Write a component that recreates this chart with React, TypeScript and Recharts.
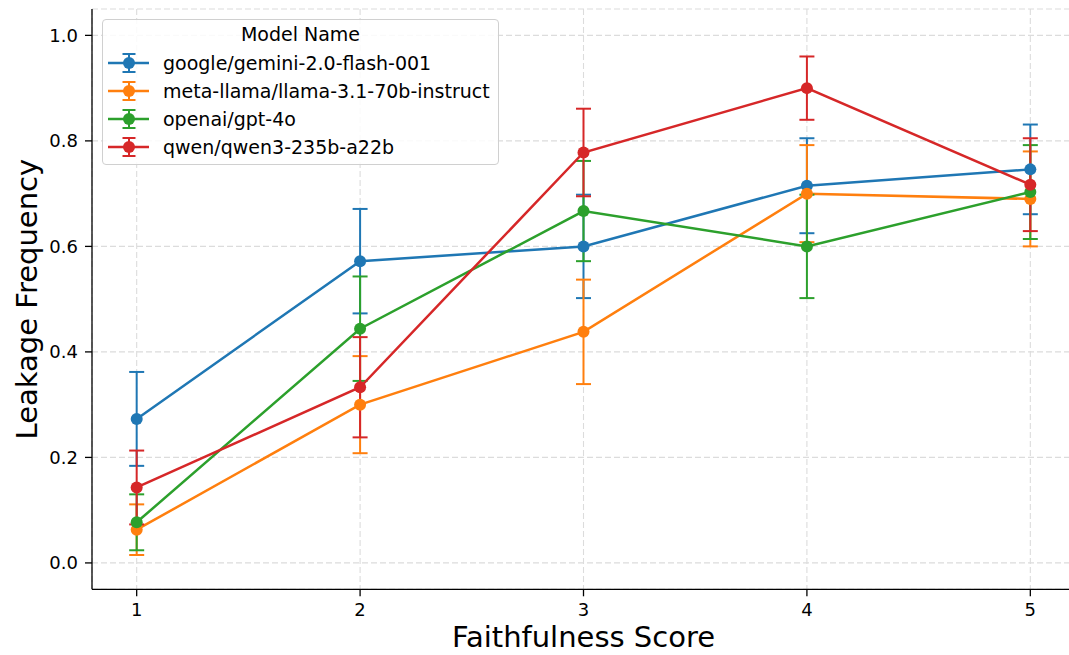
import React from "react";
import {
  CartesianGrid,
  ErrorBar,
  Legend,
  Line,
  LineChart,
  XAxis,
  YAxis,
} from "recharts";

const scores = [1, 2, 3, 4, 5];

const gemini = [0.273, 0.572, 0.6, 0.715, 0.746];
const geminiErr = [0.089, 0.099, 0.098, 0.09, 0.085];
const llama = [0.063, 0.3, 0.438, 0.7, 0.69];
const llamaErr = [0.048, 0.092, 0.099, 0.092, 0.09];
const gpt4o = [0.077, 0.444, 0.667, 0.6, 0.703];
const gpt4oErr = [0.053, 0.099, 0.095, 0.098, 0.089];
const qwen = [0.143, 0.333, 0.778, 0.9, 0.717];
const qwenErr = [0.07, 0.095, 0.083, 0.06, 0.088];

const yTicks = [0, 0.2, 0.4, 0.6, 0.8, 1.0];

const models = [
  { key: "gemini", name: "google/gemini-2.0-flash-001", color: "#1f77b4" },
  { key: "llama", name: "meta-llama/llama-3.1-70b-instruct", color: "#ff7f0e" },
  { key: "gpt4o", name: "openai/gpt-4o", color: "#2ca02c" },
  { key: "qwen", name: "qwen/qwen3-235b-a22b", color: "#d62728" },
];

const data = scores.map((score, i) => ({
  score,
  gemini: gemini[i],
  geminiErr: geminiErr[i],
  llama: llama[i],
  llamaErr: llamaErr[i],
  gpt4o: gpt4o[i],
  gpt4oErr: gpt4oErr[i],
  qwen: qwen[i],
  qwenErr: qwenErr[i],
}));

const font = "'DejaVu Sans', sans-serif";
const ink = "#000";

function LegendBox() {
  return (
    <div
      style={{
        position: "relative",
        boxSizing: "border-box",
        width: 397,
        height: 146,
        border: "1px solid #d0d0d0",
        borderRadius: 4,
        background: "rgba(255,255,255,0.85)",
        fontFamily: font,
        fontSize: 19,
        color: ink,
      }}
    >
      <div
        style={{
          position: "absolute",
          top: 3,
          left: 0,
          right: 0,
          textAlign: "center",
          lineHeight: "22px",
        }}
      >
        Model Name
      </div>
      {models.map((m, i) => (
        <div
          key={m.key}
          style={{
            position: "absolute",
            top: 28.7 + 28.2 * i,
            left: 5,
            height: 28,
            display: "flex",
            alignItems: "center",
            whiteSpace: "nowrap",
          }}
        >
          <svg width={42} height={28} style={{ display: "block" }}>
            <line x1={0} x2={41} y1={14} y2={14} stroke={m.color} strokeWidth={2.5} />
            <line x1={21} x2={21} y1={5} y2={23} stroke={m.color} strokeWidth={2} />
            <line x1={14.5} x2={27.5} y1={5} y2={5} stroke={m.color} strokeWidth={2} />
            <line x1={14.5} x2={27.5} y1={23} y2={23} stroke={m.color} strokeWidth={2} />
            <circle cx={21} cy={14} r={6} fill={m.color} />
          </svg>
          <span style={{ marginLeft: 13, lineHeight: "22px" }}>{m.name}</span>
        </div>
      ))}
    </div>
  );
}

function XLabel(props: any) {
  const vb = props.viewBox;
  return (
    <text
      x={vb.x + vb.width / 2}
      y={647}
      textAnchor="middle"
      fontFamily={font}
      fontSize={29}
      fill={ink}
    >
      Faithfulness Score
    </text>
  );
}

function YLabel(props: any) {
  const vb = props.viewBox;
  const cy = vb.y + vb.height / 2;
  return (
    <text
      x={37}
      y={cy}
      transform={`rotate(-90, 37, ${cy})`}
      textAnchor="middle"
      fontFamily={font}
      fontSize={29}
      fill={ink}
    >
      Leakage Frequency
    </text>
  );
}

export default function App() {
  const tickStyle = { fontFamily: font, fontSize: 18, fill: ink };
  return (
    <div
      style={{
        position: "absolute",
        left: 0,
        top: 0,
        width: 1069,
        height: 655,
        overflow: "hidden",
        background: "#fff",
      }}
    >
      <LineChart
        width={1080}
        height={655}
        data={data}
        margin={{ top: 9, right: 5, bottom: 0, left: 0 }}
      >
        <CartesianGrid stroke="#dcdcdc" strokeDasharray="6 3" strokeWidth={1.1} />
        <XAxis
          dataKey="score"
          type="number"
          domain={[0.8, 5.2]}
          ticks={scores}
          height={65.7}
          tick={tickStyle}
          tickSize={7}
          tickMargin={7}
          axisLine={{ stroke: ink, strokeWidth: 1.3 }}
          tickLine={{ stroke: ink, strokeWidth: 1.3 }}
          label={<XLabel />}
        />
        <XAxis
          xAxisId="top"
          orientation="top"
          dataKey="score"
          type="number"
          domain={[0.8, 5.2]}
          height={0}
          tick={false}
          tickLine={false}
          axisLine={{ stroke: ink, strokeWidth: 1.3 }}
        />
        <YAxis
          type="number"
          domain={[-0.05, 1.05]}
          ticks={yTicks}
          width={92}
          tick={tickStyle}
          tickSize={7}
          tickMargin={7}
          tickFormatter={(v: number) => v.toFixed(1)}
          axisLine={{ stroke: ink, strokeWidth: 1.3 }}
          tickLine={{ stroke: ink, strokeWidth: 1.3 }}
          label={<YLabel />}
        />
        <Legend
          layout="horizontal"
          verticalAlign="middle"
          align="center"
          content={() => <LegendBox />}
          wrapperStyle={{ left: 102, top: 19, width: 397, height: 146 }}
        />
        {models.map((m) => (
          <Line
            key={m.key}
            dataKey={m.key}
            name={m.name}
            stroke={m.color}
            strokeWidth={2.5}
            dot={{ r: 6, fill: m.color, stroke: m.color, strokeWidth: 0 }}
            activeDot={false}
            isAnimationActive={false}
          >
            <ErrorBar
              dataKey={m.key + "Err"}
              direction="y"
              width={7.5}
              strokeWidth={2}
              stroke={m.color}
              isAnimationActive={false}
            />
          </Line>
        ))}
      </LineChart>
    </div>
  );
}
